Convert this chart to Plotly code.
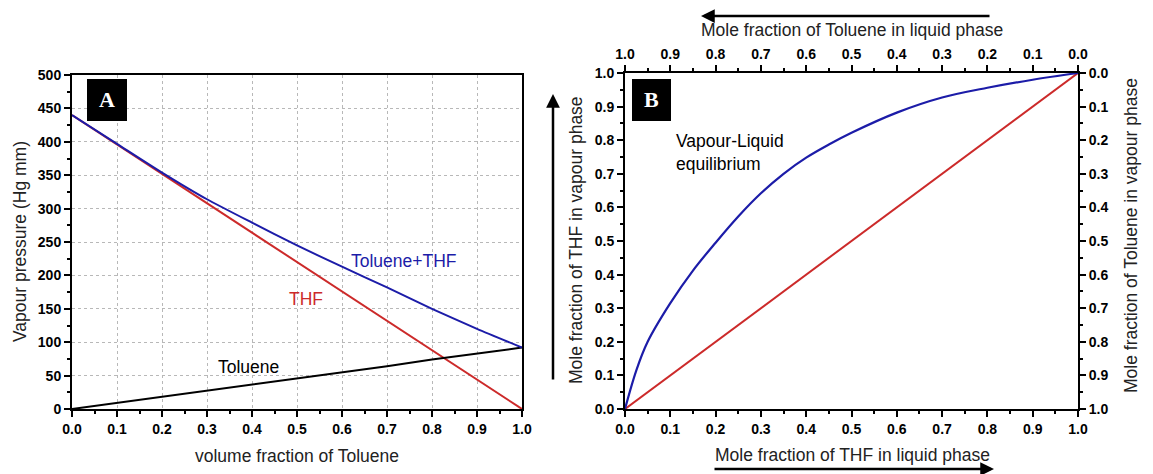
import plotly.graph_objects as go

# ---------------- data ----------------
# Panel A: vapour pressure vs volume fraction of toluene
vol_frac = [0.0, 0.1, 0.2, 0.3, 0.4, 0.5, 0.6, 0.7, 0.8, 0.9, 1.0]
p_thf = [440, 396, 352, 308, 264, 220, 176, 132, 88, 44, 0]
p_toluene = [0, 9, 18, 28, 37, 46, 55, 64, 74, 83, 92]
p_mix = [440, 397, 354, 314, 279, 245, 213, 182, 150, 120, 92]

# Panel B: vapour-liquid equilibrium
x_liq = [0.0, 0.025, 0.05, 0.1, 0.15, 0.2, 0.25, 0.3, 0.35, 0.4, 0.45, 0.5, 0.6, 0.7, 0.8, 0.9, 1.0]
y_vap = [0.0, 0.115, 0.2, 0.315, 0.412, 0.495, 0.573, 0.642, 0.70, 0.748, 0.787, 0.822, 0.882, 0.927, 0.956, 0.98, 1.0]
diag = [0.0, 1.0]

W, H = 1153, 474
def px(x):
    return x / W
def py(y):
    return 1 - y / H

BLUE = "#1c1ca8"
RED = "#cc2a2a"
TXT = "#222222"
tickfont = dict(family="Liberation Sans, Arial", size=14, color="black", weight="bold")
titlefont = dict(family="Liberation Sans, Arial", size=17.5, color=TXT)

fig = go.Figure()

# Panel A traces
fig.add_trace(go.Scatter(x=vol_frac, y=p_thf, mode="lines", line=dict(color=RED, width=2),
                         xaxis="x", yaxis="y", showlegend=False))
fig.add_trace(go.Scatter(x=vol_frac, y=p_toluene, mode="lines", line=dict(color="black", width=2),
                         xaxis="x", yaxis="y", showlegend=False))
fig.add_trace(go.Scatter(x=vol_frac, y=p_mix, mode="lines", line=dict(color=BLUE, width=2, shape="spline", smoothing=0.6),
                         xaxis="x", yaxis="y", showlegend=False))

# Panel B traces
fig.add_trace(go.Scatter(x=diag, y=diag, mode="lines", line=dict(color=RED, width=2),
                         xaxis="x2", yaxis="y2", showlegend=False))
fig.add_trace(go.Scatter(x=x_liq, y=y_vap, mode="lines", line=dict(color=BLUE, width=2.2, shape="spline", smoothing=1.0),
                         xaxis="x2", yaxis="y2", showlegend=False))
# invisible trace for secondary (top/right) axes
fig.add_trace(go.Scatter(x=[0, 1], y=[0, 1], mode="lines", line=dict(width=0), opacity=0,
                         hoverinfo="skip", xaxis="x3", yaxis="y3", showlegend=False))

common = dict(showline=True, linecolor="black", linewidth=2, ticks="outside", ticklen=6,
              tickwidth=2, tickcolor="black", tickfont=tickfont, zeroline=False, automargin=False)
minor = dict(ticks="outside", ticklen=3, tickwidth=1.5, tickcolor="black", showgrid=False)

domA_x = [px(72), px(522)]
domA_y = [py(409), py(75)]
domB_x = [px(625), px(1078)]
domB_y = [py(409), py(73)]

fig.update_layout(
    width=W, height=H,
    margin=dict(l=0, r=0, t=0, b=0, pad=0, autoexpand=False),
    paper_bgcolor="white", plot_bgcolor="white",
    xaxis=dict(domain=domA_x, anchor="y", range=[0, 1], dtick=0.1, tickformat=".1f",
               mirror=True, showgrid=True, gridcolor="#b8b8b8", griddash="dot", gridwidth=1,
               minor=dict(dtick=0.05, **minor), **common),
    yaxis=dict(domain=domA_y, anchor="x", range=[0, 500], dtick=50,
               mirror=True, showgrid=True, gridcolor="#b8b8b8", griddash="dot", gridwidth=1,
               minor=dict(dtick=25, **minor), **common),
    xaxis2=dict(domain=domB_x, anchor="y2", range=[0, 1], dtick=0.1, tickformat=".1f", showgrid=False,
                minor=dict(dtick=0.05, **minor), **common),
    yaxis2=dict(domain=domB_y, anchor="x2", range=[0, 1], dtick=0.1, tickformat=".1f", showgrid=False,
                minor=dict(dtick=0.05, **minor), **common),
    xaxis3=dict(overlaying="x2", side="top", anchor="y2", range=[1, 0], dtick=0.1, tickformat=".1f",
                showgrid=False, minor=dict(dtick=0.05, **minor), **common),
    yaxis3=dict(overlaying="y2", side="right", anchor="x2", range=[1, 0], dtick=0.1, tickformat=".1f",
                showgrid=False, minor=dict(dtick=0.05, **minor), **common),
)

ann = []
def text(x, y, s, color=TXT, size=17.5, angle=0, xanchor="center", **kw):
    f = dict(titlefont)
    f["color"] = color
    f["size"] = size
    ann.append(dict(x=px(x), y=py(y), xref="paper", yref="paper", text=s, showarrow=False,
                    font=f, textangle=angle, xanchor=xanchor, yanchor="middle", **kw))

# Panel A titles and labels
text(20, 242, "Vapour pressure (Hg mm)", angle=-90)
text(297, 456, "volume fraction of Toluene")
text(349, 261, "Toluene+THF", color=BLUE, xanchor="left")
text(287, 299, "THF", color=RED, xanchor="left")
text(216, 367, "Toluene", color="black", xanchor="left")

# Panel B titles
text(852, 30, "Mole fraction of Toluene in liquid phase")
text(852, 455, "Mole fraction of THF in liquid phase")
text(576, 240, "Mole fraction of THF in vapour phase", angle=-90)
text(1131, 236, "Mole fraction of Toluene in vapour phase", angle=-90)
text(674, 152, "Vapour-Liquid<br>equilibrium", color="black", xanchor="left", align="left")

# Panel letters
for lab, x0, x1 in [("A", 87, 127), ("B", 632, 671)]:
    ann.append(dict(x=px((x0 + x1) / 2), y=py(100), xref="paper", yref="paper", text="<b>%s</b>" % lab,
                    showarrow=False, font=dict(family="Liberation Serif, Times New Roman", size=22, color="white"),
                    xanchor="center", yanchor="middle"))

# Arrows
def arrow(hx, hy, tx, ty):
    ann.append(dict(x=px(hx), y=py(hy), xref="paper", yref="paper", text="", showarrow=True,
                    ax=tx - hx, ay=ty - hy, axref="pixel", ayref="pixel",
                    arrowhead=2, arrowsize=1.1, arrowwidth=2.5, arrowcolor="black", standoff=0))
arrow(701, 16, 991, 16)
arrow(994, 469, 713, 469)
arrow(553, 94, 553, 381)

fig.update_layout(annotations=ann)

shapes = []
for x0, x1 in [(87, 127), (632, 671)]:
    shapes.append(dict(type="rect", xref="paper", yref="paper", x0=px(x0), x1=px(x1), y0=py(121), y1=py(79),
                       fillcolor="black", line=dict(width=0), layer="above"))
fig.update_layout(shapes=shapes)

fig.write_html("out.html")
